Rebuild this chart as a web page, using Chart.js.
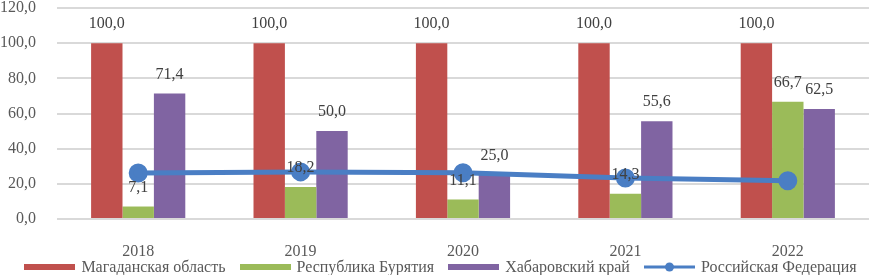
<!DOCTYPE html>
<html>
<head>
<meta charset="utf-8">
<script src="https://cdn.jsdelivr.net/npm/chart.js@4"></script>
<style>
    html, body { margin: 0; padding: 0; background: #fff; overflow: hidden; }
    #wrap { position: relative; width: 881px; height: 275px; overflow: hidden; }
    #box { width: 881px; height: 265px; margin-top: -4px; }
    #legend {
        position: absolute; left: 0; top: 257px; width: 881px; height: 20px;
        display: flex; justify-content: center; align-items: center;
        font: 16px 'Liberation Serif', 'DejaVu Serif', serif; color: #595959;
        white-space: nowrap;
    }
    #legend .item { display: flex; align-items: center; margin: 0 7px; }
    #legend canvas { margin-right: 6px; }
</style>
</head>
<body>
<div id="wrap">
    <div id="box"><canvas id="chart"></canvas></div>
    <div id="legend"></div>
</div>
<script>
const years = ['2018', '2019', '2020', '2021', '2022'];
const magadan = [100.0, 100.0, 100.0, 100.0, 100.0];
const buryatia = [7.1, 18.2, 11.1, 14.3, 66.7];
const khabarovsk = [71.4, 50.0, 25.0, 55.6, 62.5];
const russia = [26.2, 26.8, 26.3, 23.3, 21.8];
const yTicks = [0, 20, 40, 60, 80, 100, 120];

const FONT = "'Liberation Serif', 'DejaVu Serif', serif";
const RED = '#C0504D', GREEN = '#9BBB59', PURPLE = '#8064A2', BLUE = '#4A7EC4';

function fmt(v) {
    return v.toFixed(1).replace('.', ',');
}

// swatch for the html legend
function swatch(ds) {
    const c = document.createElement('canvas');
    c.width = 51; c.height = 10;
    const g = c.getContext('2d');
    const col = ds.borderColor || ds.backgroundColor;
    if (ds.type === 'line') {
        g.strokeStyle = col;
        g.lineWidth = 3;
        g.beginPath();
        g.moveTo(0, 5); g.lineTo(51, 5);
        g.stroke();
        g.fillStyle = col;
        g.beginPath();
        g.arc(25.5, 5, 4.5, 0, Math.PI * 2);
        g.fill();
    } else {
        g.fillStyle = ds.backgroundColor;
        g.fillRect(0, 2, 51, 6);
    }
    return c;
}

function buildLegend(chart) {
    const box = document.getElementById('legend');
    box.innerHTML = '';
    chart.data.datasets.forEach(ds => {
        const item = document.createElement('div');
        item.className = 'item';
        item.appendChild(swatch(ds));
        const span = document.createElement('span');
        span.textContent = ds.label;
        item.appendChild(span);
        box.appendChild(item);
    });
}

const barLabels = {
    id: 'barLabels',
    afterDatasetsDraw(chart) {
        const ctx = chart.ctx;
        ctx.save();
        ctx.font = '16px ' + FONT;
        ctx.fillStyle = '#404040';
        ctx.textAlign = 'center';
        ctx.textBaseline = 'middle';
        chart.data.datasets.forEach((ds, i) => {
            if (ds.type === 'line') return;
            const meta = chart.getDatasetMeta(i);
            meta.data.forEach((bar, j) => {
                ctx.fillText(fmt(ds.data[j]), bar.x, bar.y - 19);
            });
        });
        ctx.restore();
    }
};

const chart = new Chart(document.getElementById('chart'), {
    type: 'bar',
    data: {
        labels: years,
        datasets: [
            { label: 'Магаданская область', data: magadan, backgroundColor: RED, order: 1 },
            { label: 'Республика Бурятия', data: buryatia, backgroundColor: GREEN, order: 1 },
            { label: 'Хабаровский край', data: khabarovsk, backgroundColor: PURPLE, order: 1 },
            {
                type: 'line', label: 'Российская Федерация', data: russia,
                borderColor: BLUE, backgroundColor: BLUE, borderWidth: 5,
                pointRadius: 7, pointHoverRadius: 7, pointBackgroundColor: BLUE,
                pointStyle: 'circle', order: 0
            }
        ]
    },
    options: {
        responsive: true,
        maintainAspectRatio: false,
        animation: false,
        datasets: {
            bar: { categoryPercentage: 0.58, barPercentage: 1.0 }
        },
        layout: { padding: { top: 3, right: 0, left: 0, bottom: 0 } },
        plugins: {
            tooltip: { enabled: false },
            legend: { display: false }
        },
        scales: {
            x: {
                grid: { display: false, drawTicks: false },
                border: { display: false },
                ticks: { color: '#595959', font: { family: FONT, size: 16, lineHeight: 0.05 }, padding: 32 },
                afterFit: s => { s.height = 42; }
            },
            y: {
                min: 0,
                max: 120,
                afterBuildTicks: axis => { axis.ticks = yTicks.map(v => ({ value: v })); },
                afterFit: s => { s.width = 57; s.paddingTop = 0; s.paddingBottom = 0; },
                grid: { color: '#D9D9D9', lineWidth: 2, drawTicks: false },
                border: { display: false },
                ticks: {
                    color: '#595959',
                    font: { family: FONT, size: 16 },
                    padding: 21,
                    callback: v => fmt(v)
                }
            }
        }
    },
    plugins: [barLabels]
});

buildLegend(chart);
</script>
</body>
</html>
